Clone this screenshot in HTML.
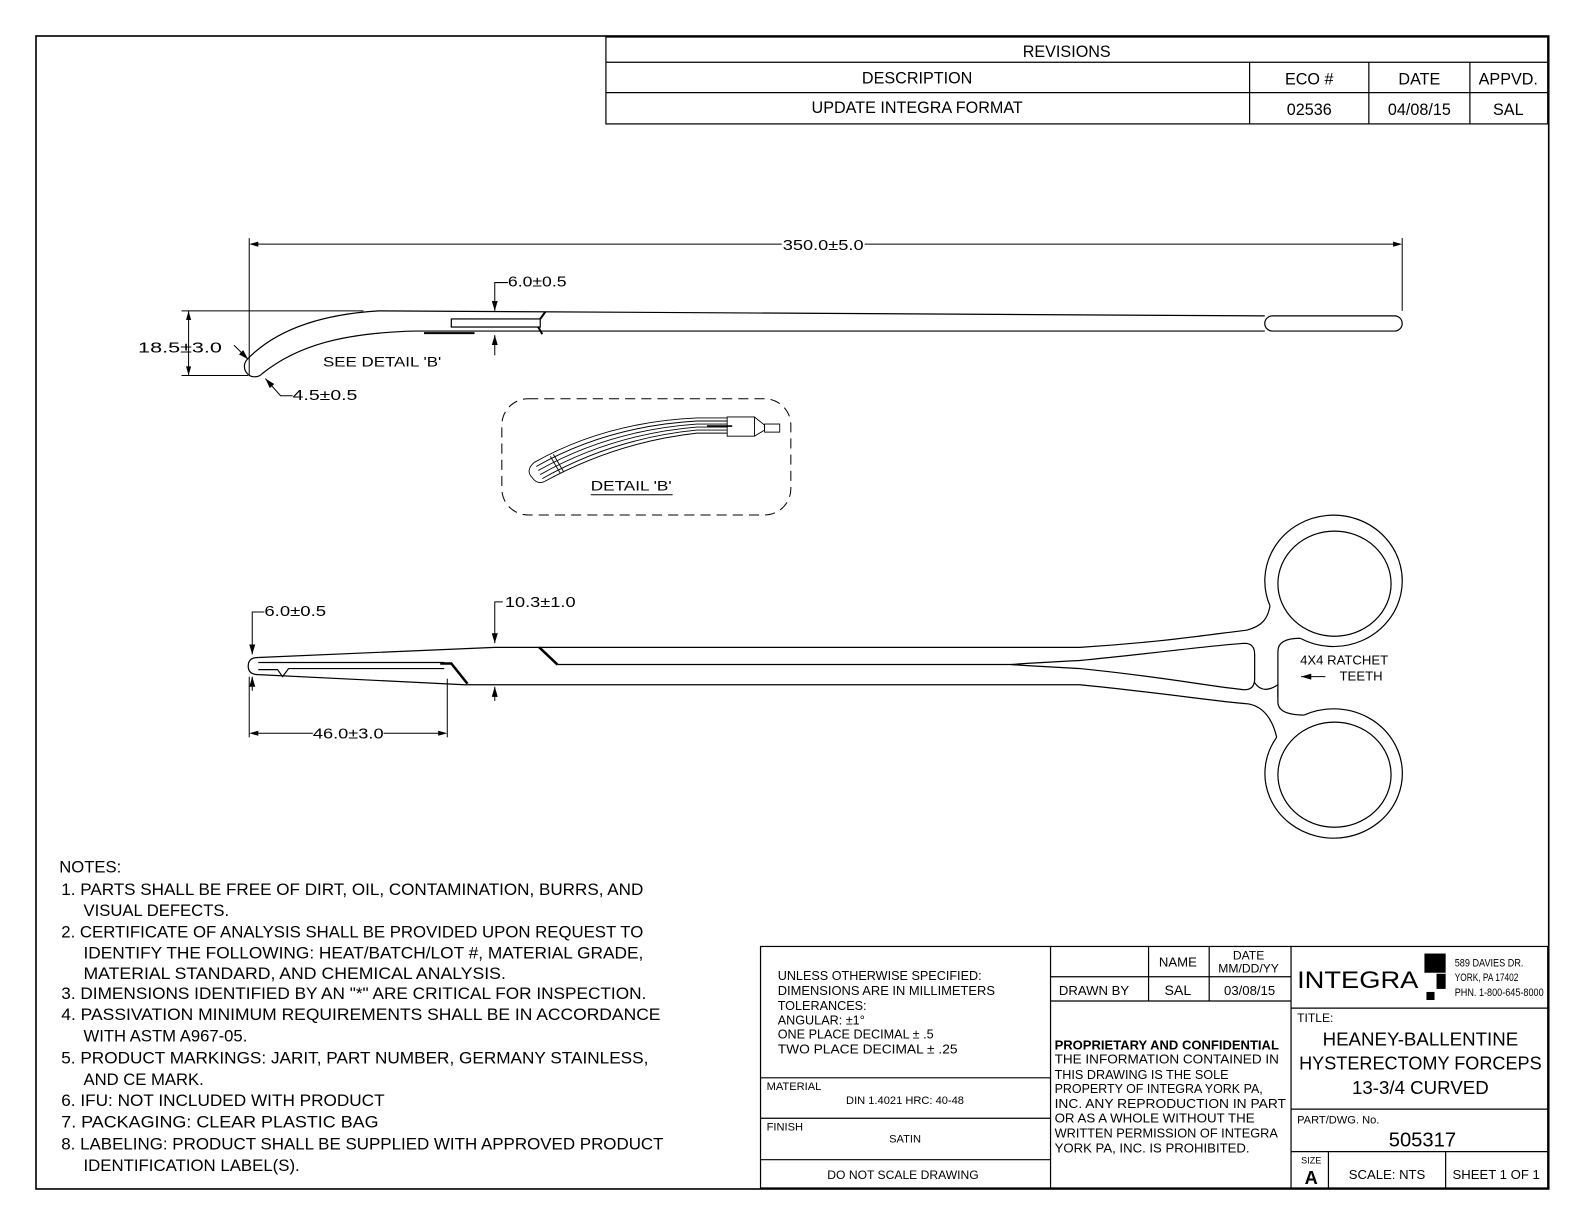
<!DOCTYPE html>
<html><head><meta charset="utf-8"><style>
html,body{margin:0;padding:0;background:#fff;}
svg{display:block;}
text{font-family:"Liberation Sans",sans-serif;fill:#000;}
</style></head><body>
<svg width="1584" height="1224" viewBox="0 0 1584 1224" xmlns="http://www.w3.org/2000/svg">
<defs>
<marker id="a" viewBox="0 0 10 6" refX="10" refY="3" markerWidth="10" markerHeight="6" orient="auto" markerUnits="userSpaceOnUse"><path d="M0,0 L10,3 L0,6z" fill="#000"/></marker>
</defs>
<g transform="translate(36,36) scale(1.0105) translate(-36,-36)" fill="none" stroke="#000" stroke-width="1.2">
<rect x="36" y="36" width="1497" height="1141" stroke-width="1.6"/>
<rect x="600" y="37" width="932" height="86"/>
<line x1="600" y1="62" x2="1532" y2="62"/>
<line x1="600" y1="92" x2="1532" y2="92"/>
<line x1="1237" y1="62" x2="1237" y2="123"/>
<line x1="1355" y1="62" x2="1355" y2="123"/>
<line x1="1455" y1="62" x2="1455" y2="123"/>
<g stroke="none" font-size="16" text-anchor="middle">
<text x="1056" y="57">REVISIONS</text>
<text x="908" y="83">DESCRIPTION</text>
<text x="1296" y="84">ECO #</text>
<text x="1405" y="84">DATE</text>
<text x="1493" y="84">APPVD.</text>
<text x="908" y="112">UPDATE INTEGRA FORMAT</text>
<text x="1296" y="114">02536</text>
<text x="1405" y="114">04/08/15</text>
<text x="1493" y="114">SAL</text>
</g>

<!-- TOP VIEW -->
<line x1="247" y1="236" x2="247" y2="372" stroke-width="1"/>
<line x1="1388" y1="236" x2="1388" y2="308" stroke-width="1"/>
<line x1="252" y1="242" x2="774" y2="242" stroke-width="1"/>
<line x1="856" y1="242" x2="1383" y2="242" stroke-width="1"/>
<path d="M247,242 l9,-2.5 v5z M1388,242 l-9,-2.5 v5z" fill="#000" stroke="none"/>
<text x="775" y="248" font-size="15" textLength="80" lengthAdjust="spacingAndGlyphs" stroke="none">350.0±5.0</text>
<line x1="180" y1="308" x2="360" y2="308" stroke-width="1"/>
<line x1="180" y1="372" x2="246" y2="372" stroke-width="1"/>
<line x1="187" y1="308" x2="187" y2="372" stroke-width="1"/>
<path d="M187,308 l-2.5,9 h5z M187,372 l-2.5,-9 h5z" fill="#000" stroke="none"/>
<text x="137" y="349" font-size="15" textLength="83" lengthAdjust="spacingAndGlyphs" stroke="none">18.5±3.0</text>
<line x1="232" y1="342" x2="246" y2="356" stroke-width="1" marker-end="url(#a)"/>
<path d="M375,308 L1252,313 M245,356 C270,330 310,312 375,308"/>
<path d="M245,356 A9,9 0 0 0 260,370 C295,342 340,330 410,328 L1252,328"/>
<rect x="1252" y="313" width="136" height="15" rx="7.5"/>
<rect x="447" y="316" width="88" height="8"/>
<path d="M535,316 L540,309 M533,324 L537,331" stroke-width="2"/>
<line x1="420" y1="330" x2="470" y2="330" stroke-width="2"/>
<path d="M503,280 H490 V308" stroke-width="1" marker-end="url(#a)"/>
<path d="M490,352 V332" stroke-width="1" marker-end="url(#a)"/>
<text x="503" y="284" font-size="15" textLength="58" lengthAdjust="spacingAndGlyphs" stroke="none">6.0±0.5</text>
<text x="320" y="363" font-size="14" textLength="117" lengthAdjust="spacingAndGlyphs" stroke="none">SEE DETAIL 'B'</text>
<path d="M290,392 H278 L263,375" stroke-width="1" marker-end="url(#a)"/>
<text x="290" y="396" font-size="15" textLength="64" lengthAdjust="spacingAndGlyphs" stroke="none">4.5±0.5</text>

<!-- DETAIL B -->
<rect x="497" y="395" width="286" height="115" rx="26" stroke-dasharray="10,6" stroke-width="1"/>
<g stroke-width="0.9">
<path d="M529,458 Q600,418 690,414 L720,414"/>
<path d="M531,462 Q602,422 690,417 L720,417"/>
<path d="M533,466 Q604,426 690,420 L720,420"/>
<path d="M535,470 Q606,430 690,423 L720,423"/>
<path d="M537,474 Q608,434 690,426 L720,426"/>
<path d="M539,477 Q610,438 690,429 L720,429"/>
<path d="M529,458 Q520,466 527,473 Q532,480 539,477"/>
<line x1="545" y1="452" x2="555" y2="469"/><line x1="548" y1="450" x2="558" y2="467"/>
<rect x="720" y="413" width="27" height="19"/>
<path d="M747,413 L757,421 L757,426 L747,432"/>
<rect x="757" y="420" width="15" height="8"/>
<line x1="700" y1="422" x2="725" y2="422" stroke-width="1.6"/>
</g>
<text x="585" y="486" font-size="14" textLength="80" lengthAdjust="spacingAndGlyphs" stroke="none">DETAIL 'B'</text>
<line x1="585" y1="490" x2="666" y2="490" stroke-width="1"/>

<!-- BOTTOM VIEW -->
<path d="M256,651 Q246,651 246,659.5 Q246,668 256,668"/>
<path d="M256,651 L490,641 L1069,641 C1150,636 1200,628 1234,624 C1250,620 1255,612 1257.2,600"/>
<path d="M256,668 L460,678 L1069,678 C1150,686 1200,694 1236,697 C1252,700 1260,714 1263.8,730"/>
<path d="M256,656 L440,656 M256,663 L275,663 L280,670 L286,662 L440,662"/>
<path d="M436,657 L447,657 L463,677 M534,641 L552,658" stroke-width="2.5"/>
<path d="M552,658 L1000,658 C1030,656 1050,655 1069,654 C1150,646 1200,639 1232,637 Q1242,637 1242,648 L1242,672 Q1242,683 1232,683 C1200,680 1150,670 1069,662 C1050,661 1030,660 1000,658"/>
<path d="M1242,676 Q1250,688 1265,678"/>
<path d="M1265,690 L1265,645 Q1265,632 1287,632"/>
<path d="M1265,682 L1265,695 Q1265,708 1291,708"/>
<path d="M1257.2,600 A68,65 0 1 1 1287,632"/>
<ellipse cx="1321" cy="578" rx="56" ry="52"/>
<path d="M1291,708 A68,64 0 1 1 1263.8,730"/>
<ellipse cx="1321" cy="767" rx="56" ry="52"/>
<text x="1287" y="658" font-size="13" stroke="none">4X4  RATCHET</text>
<text x="1326" y="674" font-size="13" stroke="none">TEETH</text>
<line x1="1312" y1="670" x2="1288" y2="670" stroke-width="1" marker-end="url(#a)"/>
<path d="M262,606 H250 V648" stroke-width="1" marker-end="url(#a)"/>
<path d="M250,684 V670" stroke-width="1" marker-end="url(#a)"/>
<text x="262" y="610" font-size="15" textLength="61" lengthAdjust="spacingAndGlyphs" stroke="none">6.0±0.5</text>
<line x1="247" y1="670" x2="247" y2="730" stroke-width="1"/>
<line x1="443" y1="672" x2="443" y2="730" stroke-width="1"/>
<line x1="252" y1="726" x2="310" y2="726" stroke-width="1"/>
<line x1="380" y1="726" x2="438" y2="726" stroke-width="1"/>
<path d="M247,726 l9,-2.5 v5z M443,726 l-9,-2.5 v5z" fill="#000" stroke="none"/>
<text x="310" y="731" font-size="15" textLength="70" lengthAdjust="spacingAndGlyphs" stroke="none">46.0±3.0</text>
<path d="M498,596 H490 V637" stroke-width="1" marker-end="url(#a)"/>
<path d="M490,694 V680" stroke-width="1" marker-end="url(#a)"/>
<text x="500" y="601" font-size="15" textLength="70" lengthAdjust="spacingAndGlyphs" stroke="none">10.3±1.0</text>

<!-- NOTES -->
<g stroke="none" font-size="16.5">
<text x="59" y="864">NOTES:</text>
<text x="61" y="886" textLength="576" lengthAdjust="spacingAndGlyphs">1.  PARTS SHALL BE FREE OF DIRT, OIL, CONTAMINATION, BURRS, AND</text>
<text x="83" y="907">VISUAL DEFECTS.</text>
<text x="61" y="928" textLength="576" lengthAdjust="spacingAndGlyphs">2.  CERTIFICATE OF ANALYSIS SHALL BE PROVIDED UPON REQUEST TO</text>
<text x="83" y="949" textLength="554" lengthAdjust="spacingAndGlyphs">IDENTIFY THE FOLLOWING: HEAT/BATCH/LOT #, MATERIAL GRADE,</text>
<text x="83" y="969" textLength="418" lengthAdjust="spacingAndGlyphs">MATERIAL STANDARD, AND CHEMICAL ANALYSIS.</text>
<text x="61" y="989" textLength="579" lengthAdjust="spacingAndGlyphs">3.  DIMENSIONS IDENTIFIED BY AN "*" ARE CRITICAL FOR INSPECTION.</text>
<text x="61" y="1010" textLength="593" lengthAdjust="spacingAndGlyphs">4.  PASSIVATION MINIMUM REQUIREMENTS SHALL BE IN ACCORDANCE</text>
<text x="83" y="1031">WITH ASTM A967-05.</text>
<text x="61" y="1053" textLength="581" lengthAdjust="spacingAndGlyphs">5.  PRODUCT MARKINGS:  JARIT, PART NUMBER, GERMANY STAINLESS,</text>
<text x="83" y="1074">AND CE MARK.</text>
<text x="61" y="1095" textLength="320" lengthAdjust="spacingAndGlyphs">6.  IFU: NOT INCLUDED WITH PRODUCT</text>
<text x="61" y="1116" textLength="314" lengthAdjust="spacingAndGlyphs">7.  PACKAGING: CLEAR PLASTIC BAG</text>
<text x="61" y="1138" textLength="596" lengthAdjust="spacingAndGlyphs">8.  LABELING: PRODUCT SHALL BE SUPPLIED WITH APPROVED PRODUCT</text>
<text x="83" y="1159" textLength="214" lengthAdjust="spacingAndGlyphs">IDENTIFICATION LABEL(S).</text>
</g>

<!-- TITLE BLOCK -->
<rect x="753" y="937" width="779" height="239"/>
<line x1="1040" y1="937" x2="1040" y2="1176"/>
<line x1="1278" y1="937" x2="1278" y2="1176"/>
<line x1="753" y1="1067" x2="1040" y2="1067"/>
<line x1="753" y1="1107" x2="1040" y2="1107"/>
<line x1="753" y1="1148" x2="1040" y2="1148"/>
<line x1="1040" y1="967" x2="1278" y2="967"/>
<line x1="1040" y1="991" x2="1278" y2="991"/>
<line x1="1137" y1="937" x2="1137" y2="991"/>
<line x1="1197" y1="937" x2="1197" y2="991"/>
<line x1="1278" y1="998" x2="1532" y2="998"/>
<line x1="1278" y1="1098" x2="1532" y2="1098"/>
<line x1="1278" y1="1140" x2="1532" y2="1140"/>
<line x1="1315" y1="1140" x2="1315" y2="1176"/>
<line x1="1431" y1="1140" x2="1431" y2="1176"/>
<g stroke="none">
<g font-size="12.5">
<text x="770" y="970">UNLESS OTHERWISE SPECIFIED:</text>
<text x="770" y="985" textLength="215" lengthAdjust="spacingAndGlyphs">DIMENSIONS ARE IN MILLIMETERS</text>
<text x="770" y="1000">TOLERANCES:</text>
<text x="770" y="1014">ANGULAR: ±1°</text>
<text x="770" y="1028">ONE PLACE DECIMAL ± .5</text>
<text x="770" y="1043" textLength="178" lengthAdjust="spacingAndGlyphs">TWO PLACE DECIMAL ± .25</text>
</g>
<text x="759" y="1079" font-size="11">MATERIAL</text>
<text x="896" y="1093" font-size="11" text-anchor="middle">DIN 1.4021   HRC: 40-48</text>
<text x="759" y="1119" font-size="11">FINISH</text>
<text x="896" y="1131" font-size="11" text-anchor="middle">SATIN</text>
<text x="894" y="1167" font-size="12" text-anchor="middle">DO NOT SCALE DRAWING</text>
<text x="1166" y="957" font-size="13" text-anchor="middle">NAME</text>
<text x="1236" y="950" font-size="12" text-anchor="middle">DATE</text>
<text x="1236" y="963" font-size="12" text-anchor="middle">MM/DD/YY</text>
<text x="1083" y="985" font-size="13" text-anchor="middle">DRAWN BY</text>
<text x="1166" y="985" font-size="14" text-anchor="middle">SAL</text>
<text x="1237" y="985" font-size="13" text-anchor="middle">03/08/15</text>
<text x="1044" y="1039" font-size="12.5" font-weight="bold" textLength="222" lengthAdjust="spacingAndGlyphs">PROPRIETARY AND CONFIDENTIAL</text>
<g font-size="12.5">
<text x="1044" y="1053" textLength="222" lengthAdjust="spacingAndGlyphs">THE INFORMATION CONTAINED IN</text>
<text x="1044" y="1068">THIS DRAWING IS THE SOLE</text>
<text x="1044" y="1082" textLength="206" lengthAdjust="spacingAndGlyphs">PROPERTY OF INTEGRA YORK PA,</text>
<text x="1044" y="1097" textLength="229" lengthAdjust="spacingAndGlyphs">INC.  ANY REPRODUCTION IN PART</text>
<text x="1044" y="1111" textLength="198" lengthAdjust="spacingAndGlyphs">OR AS A WHOLE WITHOUT THE</text>
<text x="1044" y="1126" textLength="221" lengthAdjust="spacingAndGlyphs">WRITTEN PERMISSION OF INTEGRA</text>
<text x="1044" y="1141" textLength="193" lengthAdjust="spacingAndGlyphs">YORK PA, INC. IS PROHIBITED.</text>
</g>
<text x="1284" y="978" font-size="24" textLength="120" lengthAdjust="spacingAndGlyphs">INTEGRA</text>
<rect x="1410" y="944" width="21" height="19" fill="#000"/>
<rect x="1422" y="964" width="9" height="15" fill="#000"/>
<rect x="1412" y="982" width="8" height="8" fill="#000"/>
<text x="1440" y="957" font-size="10.5" textLength="68" lengthAdjust="spacingAndGlyphs">589 DAVIES DR.</text>
<text x="1440" y="971" font-size="10.5" textLength="63" lengthAdjust="spacingAndGlyphs">YORK, PA 17402</text>
<text x="1440" y="986" font-size="10.5" textLength="88" lengthAdjust="spacingAndGlyphs">PHN. 1-800-645-8000</text>
<text x="1284" y="1012" font-size="12">TITLE:</text>
<g font-size="18.5" text-anchor="middle">
<text x="1406" y="1035">HEANEY-BALLENTINE</text>
<text x="1406" y="1059" textLength="240" lengthAdjust="spacingAndGlyphs">HYSTERECTOMY FORCEPS</text>
<text x="1406" y="1083">13-3/4 CURVED</text>
</g>
<text x="1284" y="1112" font-size="11">PART/DWG. No.</text>
<text x="1408" y="1135" font-size="20" text-anchor="middle">505317</text>
<text x="1288" y="1152" font-size="9">SIZE</text>
<text x="1298" y="1172" font-size="18" font-weight="bold" text-anchor="middle">A</text>
<text x="1373" y="1167" font-size="13" text-anchor="middle">SCALE: NTS</text>
<text x="1481" y="1167" font-size="13" text-anchor="middle">SHEET 1 OF 1</text>
</g>
</g>
</svg>
</body></html>
